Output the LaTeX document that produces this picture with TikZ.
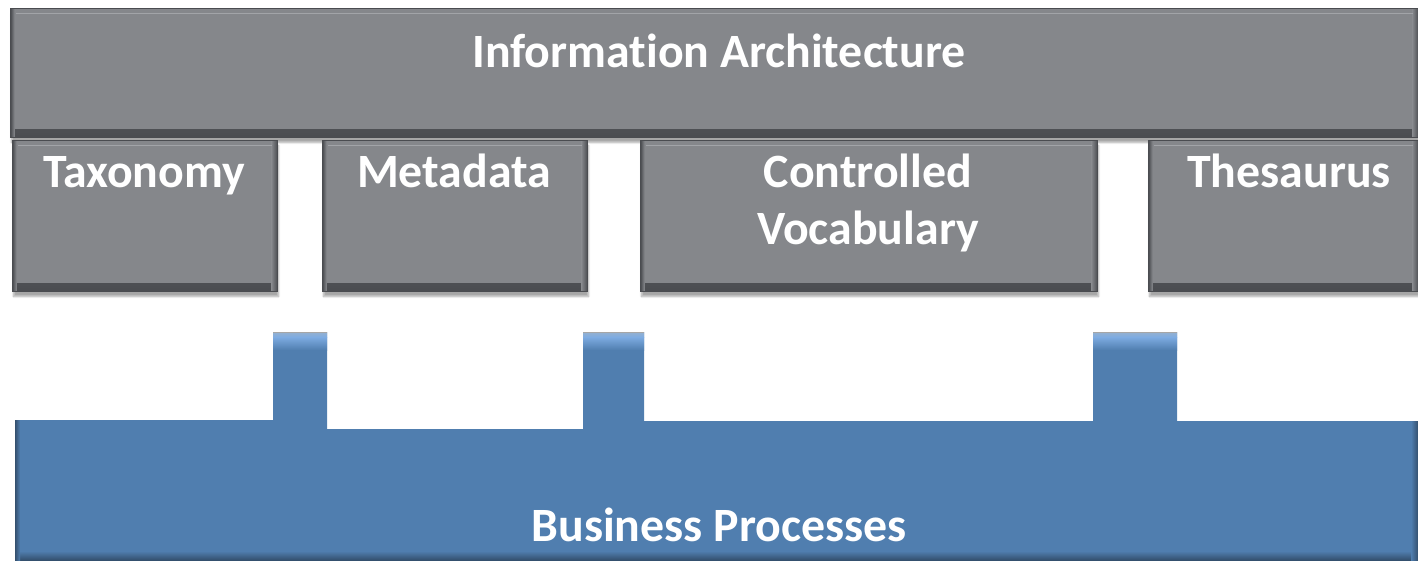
\documentclass[tikz,border=0pt]{standalone}
\usepackage{fontspec}
\setmainfont{Carlito}[Ligatures=NoCommon]
\usetikzlibrary{shadows.blur}

\definecolor{grayface}{HTML}{85878B}
\definecolor{grayedge}{HTML}{4A4C50}
\definecolor{grayhi}{HTML}{A2A4A8}
\definecolor{blueface}{HTML}{507EAF}
\definecolor{bluedark}{HTML}{34506E}
\definecolor{bluehi}{HTML}{7EACE2}

\tikzset{
  tile/.style={rectangle, inner sep=0pt, anchor=north west,
    draw=grayedge, line width=1bp, fill=grayface,
    blur shadow={shadow xshift=1bp, shadow yshift=-5bp,
                 shadow blur steps=8, shadow opacity=35},
    path picture={
      % bevel: darker lower and right rims, light line under the top edge
      \shade[top color=grayface, bottom color=grayedge]
        ([yshift=8bp]path picture bounding box.south west)
        rectangle (path picture bounding box.south east);
      \shade[left color=grayface, right color=grayedge]
        ([xshift=-6bp]path picture bounding box.north east)
        rectangle (path picture bounding box.south east);
      \shade[left color=grayedge, right color=grayface]
        (path picture bounding box.north west)
        rectangle ([xshift=4bp]path picture bounding box.south west);
      \draw[grayhi, line width=1.4bp]
        ([xshift=5bp,yshift=-5bp]path picture bounding box.north west)
        -- ([xshift=-6bp,yshift=-5bp]path picture bounding box.north east);
    }},
  lbl/.style={text=white, font=\fontsize{48}{57}\selectfont\bfseries,
    anchor=base, inner sep=0pt},
  tabhi/.style={top color=bluehi, bottom color=blueface},
}

\begin{document}
\begin{tikzpicture}[x=1bp, y=-1bp]
\useasboundingbox (0,0) rectangle (1418,562);

% gray layer: the architecture and its four components
\node[tile, minimum width=1408bp, minimum height=129bp] (arch) at (10,8) {};
\node[tile, minimum width=265bp, minimum height=151bp] (tax)  at (12,140) {};
\node[tile, minimum width=265bp, minimum height=151bp] (meta) at (322,140) {};
\node[tile, minimum width=457bp, minimum height=151bp] (cv)   at (640,140) {};
\node[tile, minimum width=270bp, minimum height=151bp] (thes) at (1148,140) {};

\node[lbl] (archtxt) at (719,68)  {Information Architecture};
\node[lbl] (taxtxt)  at (144,188) {Taxonomy};
\node[lbl] (metatxt) at (454,188) {Metadata};
\node[lbl] (cvtxt1)  at (868,188) {Controlled};
\node[lbl] (cvtxt2)  at (868,245) {Vocabulary};
\node[lbl] (thestxt) at (1289,188) {Thesaurus};

% blue layer: business processes with three raised tabs
\fill[blueface]
  (15,420) -- (273,420) -- (273,332) -- (327,332) -- (327,429)
  -- (583,429) -- (583,332) -- (644,332) -- (644,421)
  -- (1093,421) -- (1093,332) -- (1177,332) -- (1177,421)
  -- (1418,421) -- (1418,560) -- (15,560) -- cycle;

% highlights on the tab tops
\foreach \a/\b in {273/327, 583/644, 1093/1177}{
  \shade[top color=blueface!60!white, bottom color=bluehi] (\a,332) rectangle (\b,337);
  \shade[tabhi] (\a,337) rectangle (\b,350);
  \draw[gray!70, line width=1bp] (\a,332.5) -- (\b,332.5);
}

% rims of the main bar
\shade[top color=blueface, bottom color=bluedark] (15,551) rectangle (1418,560);
\shade[left color=bluedark, right color=blueface] (15,420) rectangle (20,560);
\shade[left color=blueface, right color=bluedark] (1411,421) rectangle (1418,560);

\node[lbl] (bptxt) at (719,541) {Business Processes};
\end{tikzpicture}
\end{document}
